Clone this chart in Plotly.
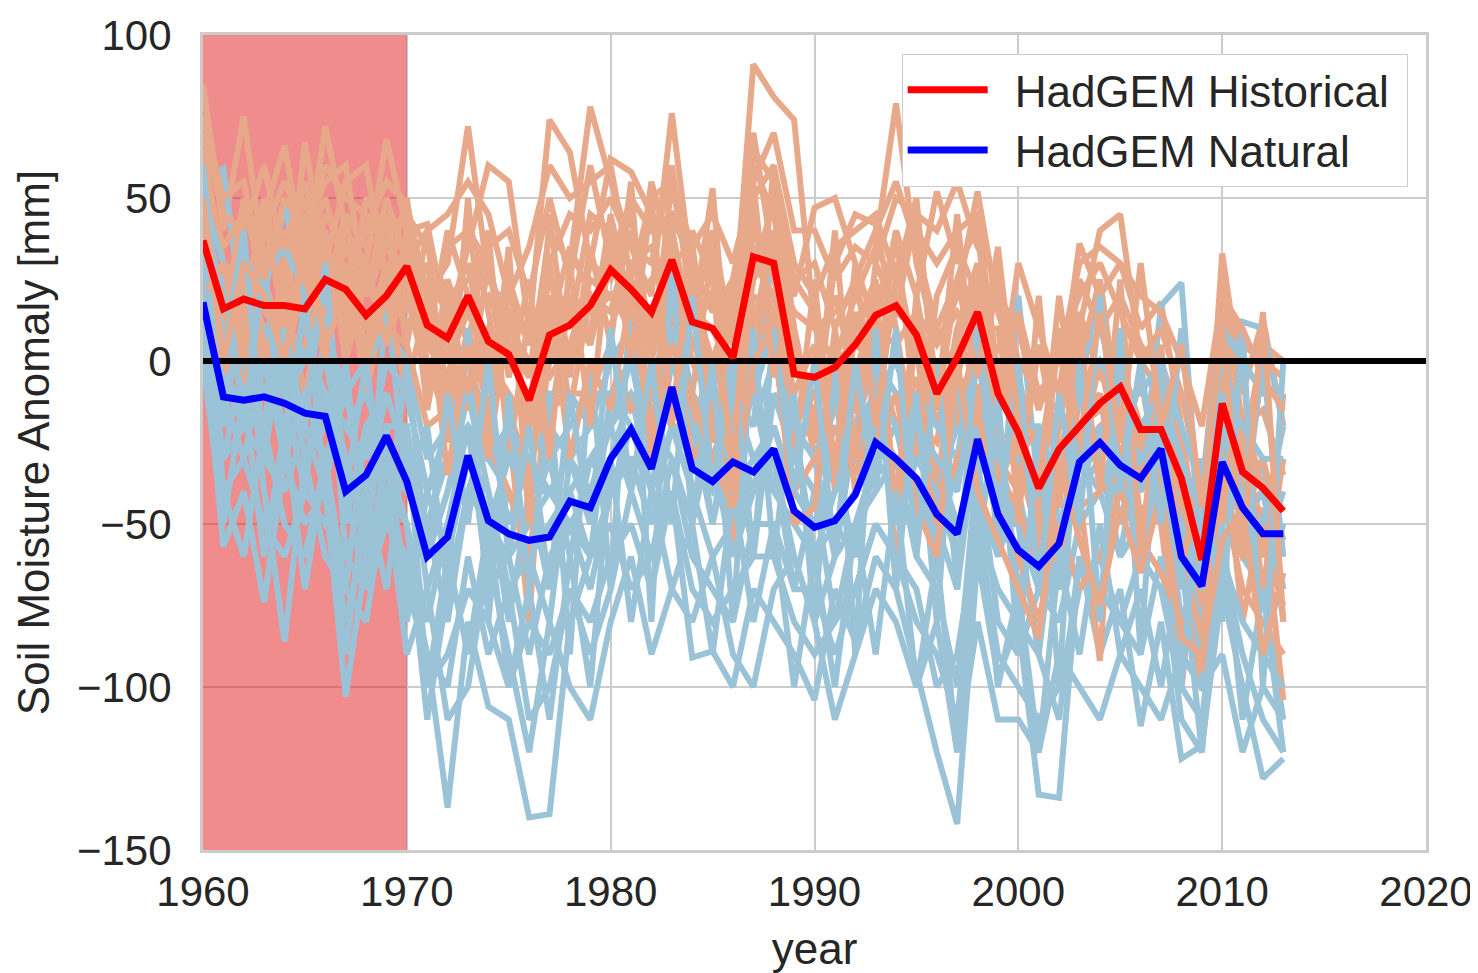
import plotly.graph_objects as go

years = list(range(1960, 2014))

# ensemble means
hist_mean = [37, 16, 19, 17, 17, 16, 25, 22, 14, 20,
             29, 11, 7, 20, 6, 2, -12, 8, 11, 17,
             28, 22, 15, 31, 12, 10, 1, 32, 30, -4,
             -5, -2, 5, 14, 17, 8, -10, 1, 15, -10,
             -22, -39, -27, -20, -13, -8, -21, -21, -36, -61,
             -13, -34, -39, -46]
nat_mean = [18, -11, -12, -11, -13, -16, -17, -40, -35, -23,
            -37, -60, -54, -29, -49, -53, -55, -54, -43, -45,
            -30, -21, -33, -8, -33, -37, -31, -34, -27, -46,
            -51, -49, -41, -25, -30, -36, -47, -53, -24, -47,
            -58, -63, -56, -31, -25, -32, -36, -27, -60, -69,
            -31, -45, -53, -53]

# individual ensemble members (estimated)
hist_1 = [85, 40, 75, 30, 45, 35, 50, 25, 40, 55,
          48, 20, 30, 72, 25, 15, -5, 40, 30, 78,
          55, 35, 20, 76, 25, 20, 10, 91, 81, 74,
          10, 15, 20, 35, 79, 30, 5, 20, 52, 15,
          -5, -30, 5, 10, 40, 45, 0, -10, -30, -60,
          33, -10, 13, -20]
hist_2 = [60, 55, 20, 45, 66, 30, 72, 40, 30, 68,
          40, 42, 10, 35, 60, 55, 10, 74, 64, 30,
          62, 58, 45, 40, 10, 53, -20, 70, 30, 20,
          47, 50, 30, 10, 40, 20, 52, 30, 40, -15,
          30, 10, -10, 36, 20, 30, 10, 18, -20, -80,
          10, -30, 5, 0]
hist_3 = [40, 10, 50, 20, 10, 67, 30, 55, 60, 25,
          50, 5, 40, 20, -10, 30, -40, 20, 10, 45,
          40, 10, 55, 30, 36, -10, 25, 60, 45, 10,
          -20, 30, 45, 42, 10, -30, 20, 35, 20, -30,
          -40, 5, -30, 0, 25, -20, -35, 5, -60, -101,
          0, -50, -30, -60]
hist_4 = [30, 25, 10, 50, 20, 45, 15, 35, 20, 45,
          15, 30, -10, 45, 15, -20, -80, 10, 35, 20,
          15, 40, 0, 55, 20, 30, -60, 45, 10, -30,
          25, -40, 10, 25, -65, 15, -40, 10, 30, -40,
          -20, -50, 10, -40, -92, 0, -20, -50, -101, -40,
          -20, -80, -45, -104]
hist_5 = [20, 0, 35, -5, 30, 10, 40, 0, 25, 10,
          35, -10, 25, 5, 40, -30, 15, -20, 20, 5,
          30, 20, -20, 15, -10, 35, -15, 25, 50, -20,
          -10, 5, -25, 30, 15, 45, -10, -20, 10, 10,
          -30, -20, -60, -10, -30, 10, -50, -30, -20, -70,
          15, -40, -70, -30]
hist_6 = [35, 20, -10, 25, 5, 20, 10, 30, -10, 20,
          20, 10, 5, -15, 10, 25, 5, 30, -15, 20,
          10, 30, 35, 20, -20, 0, 20, 10, 40, 5,
          -30, -15, 15, -10, 40, -20, -25, 10, -10, 5,
          -10, -60, -40, -30, 0, -30, -5, -40, -50, -50,
          -30, -20, -60, -50]
hist_7 = [50, 30, 25, 10, 15, -10, 20, 25, 5, 15,
          30, 0, -20, 10, -15, 10, 0, -5, 5, 25,
          20, 25, 10, 35, 5, -5, 15, 30, 20, -10,
          5, -30, -10, 15, 20, 5, -45, -10, 0, -20,
          -35, -45, -25, -20, -10, -40, -30, -10, -35, -45,
          -25, -15, -40, -70]
hist_8 = [25, -5, 20, 15, 10, 5, 25, 10, 15, 5,
          25, 15, 0, 15, 0, -10, -20, 5, 0, 10,
          35, 5, 15, 20, 15, 10, -5, 25, 35, -15,
          -15, 0, 5, 0, 15, 10, -20, 5, 25, -25,
          -25, -40, -35, -30, -20, -15, -25, -35, -45, -60,
          -5, -40, -30, -55]
hist_9 = [45, 10, 0, 35, 25, 20, 35, 15, 5, 30,
          10, 25, 15, 30, -5, 20, 5, 15, 0, 30,
          25, 45, 5, 40, 10, 20, 5, 40, 25, 0,
          0, 20, -5, 20, 30, 0, 10, -5, 20, -5,
          -15, -25, -20, 15, -5, -10, -30, -20, -40, -75,
          -15, -30, -50, -45]
hist_10 = [15, 5, 30, 5, 0, 25, 15, 20, 10, 25,
           20, -5, 10, 15, 20, 5, -5, 25, 15, 5,
           45, 15, 25, 30, 20, 0, 10, 35, 30, 15,
           10, 0, 20, 10, 5, 15, 5, 15, 5, 0,
           -30, -55, -20, -20, -15, -5, -25, -10, -35, -55,
           -10, -45, -40, -30]
hist_11 = [70, 45, 40, 60, 30, 50, 20, 45, 35, 40,
           45, 35, 20, 25, 35, 40, 20, 50, 25, 60,
           30, 50, 40, 45, 30, 15, 25, 50, 60, 30,
           20, 35, 40, 45, 25, 40, 30, 40, 45, 20,
           10, -15, 5, 20, 30, 15, 0, 10, -10, -40,
           20, 5, 0, -5]
hist_12 = [55, 35, 45, 40, 55, 40, 60, 50, 45, 35,
           35, 10, 35, 40, 30, 5, -15, 30, 45, 40,
           50, 35, 30, 60, 15, 40, 5, 65, 55, 25,
           30, 10, 25, 40, 55, 35, 10, 25, 45, -5,
           15, -10, -15, 25, 10, 20, 5, -5, -25, -55,
           25, -20, -15, -35]
hist_13 = [30, 20, 15, 30, 40, 25, 30, 5, 30, 10,
           5, -20, -15, 0, -25, -40, -60, -15, -10, -10,
           5, -15, -10, 10, -30, -20, -40, 15, 5, -40,
           -30, -20, -35, -15, -40, -20, -50, -30, -15, -45,
           -60, -80, -50, -70, -60, -40, -55, -65, -80, -95,
           -40, -70, -80, -90]
hist_14 = [40, 15, 35, 0, 20, 15, 45, 35, 20, 35,
           25, 5, -5, 20, 5, -15, -35, 0, 20, 15,
           20, 10, 0, 25, 0, -15, -30, 20, 15, -25,
           -20, -10, -15, 5, -20, -5, -35, -15, 5, -35,
           -45, -65, -55, -45, -40, -35, -45, -50, -60, -85,
           -35, -60, -55, -75]
hist_15 = [65, 30, 5, 40, 35, 55, 25, 10, 50, 40,
           5, 40, -25, 50, -20, 35, -50, 45, -5, 35,
           5, 55, -30, 45, 30, -25, 20, -10, 60, 10,
           -25, 40, -30, 20, -45, 20, -15, 45, -20, 30,
           -50, 20, -45, 10, -40, 25, -60, 0, -65, -30,
           -50, 0, -75, -10]
hist_16 = [75, 50, 55, 25, 50, 40, 55, 60, 20, 50,
           30, 40, 45, 55, 45, 20, 35, 60, 50, 55,
           60, 25, 50, 55, 35, 45, 30, 55, 70, 40,
           40, 25, 35, 30, 50, 45, 40, 55, 35, 25,
           0, -10, 0, 30, 35, 30, 20, 15, 0, -20,
           20, 10, -5, -15]
hist_17 = [20, 30, 0, 45, 10, 30, 0, 45, 0, 20,
           -10, 20, -35, 5, -30, 15, -20, 20, -30, 0,
           -15, 20, -25, 5, -10, -30, -45, 0, 10, -50,
           -45, 10, -40, -25, -10, -45, -60, 0, -40, -55,
           -70, -85, -30, -55, -75, -45, -65, -40, -85, -90,
           -55, -45, -90, -65]
hist_18 = [50, 0, 30, 20, 0, 40, 5, 20, 30, 5,
           40, -15, 20, -10, 30, -5, 25, -30, 30, -20,
           40, 0, 50, -20, 40, 25, -35, 55, -5, 25,
           15, -35, 30, -20, 25, 50, -15, 25, -5, 35,
           -20, -40, 20, -25, 15, -25, 30, -20, 5, -45,
           10, -60, 15, -80]

nat_1 = [10, -57, -40, -74, -30, -50, -40, -103, -60, -30,
         -70, -90, -137, -80, -106, -110, -140, -139, -80, -60,
         -50, -70, -60, -40, -91, -89, -100, -70, -80, -90,
         -104, -70, -86, -60, -70, -95, -120, -142, -60, -97,
         -80, -133, -134, -60, -90, -70, -112, -80, -122, -118,
         -70, -100, -128, -122]
nat_2 = [55, 59, 10, 20, 50, 10, -20, -20, -30, 0,
         -10, -40, -30, -20, -60, -40, -50, -30, -20, -10,
         -10, 0, -30, 43, -20, -30, -10, -20, 38, -30,
         -40, -20, -30, -10, 0, -20, -30, -40, 20, -60,
         20, -40, -30, -10, 25, -20, -40, 17, 24, -60,
         -10, 12, 10, -20]
nat_3 = [30, -20, 20, -40, -86, -30, -60, -70, -20, -40,
         -50, -110, -70, -40, -50, -60, -90, -60, -50, -70,
         -40, -30, -50, -20, -40, -60, -50, -40, -30, -60,
         -80, -60, -50, -40, -30, -60, -70, -100, -30, -80,
         -90, -70, -80, -50, -40, -60, -50, -40, -90, -100,
         -40, -60, -70, -110]
nat_4 = [20, 0, -20, 10, -10, -40, 10, -50, -20, -10,
         -30, -60, -40, -10, -40, -70, -60, -80, -30, -40,
         -20, -40, -10, -20, -30, -10, -40, -30, -20, -40,
         -50, -30, -60, -20, -40, -10, -60, -30, -20, -30,
         -50, -90, -40, -20, -10, -50, -20, -30, -60, -70,
         -20, -30, -60, -40]
nat_5 = [0, -30, 0, -20, 20, -10, -30, -30, -50, -20,
         -80, -40, -60, -30, -30, -20, -40, -30, -60, -30,
         -40, -20, -40, 0, -10, -50, -20, -60, -10, -20,
         -30, -60, -20, -30, -20, -50, -30, -60, -10, -40,
         -60, -40, -70, -20, -30, -10, -30, -10, -70, -40,
         0, -20, -40, -60]
nat_6 = [40, 10, -10, 0, -20, 5, -10, -40, -70, -30,
         -40, -50, -80, -40, -20, -50, -30, -40, -30, -50,
         -30, -10, -20, -30, -50, -20, -30, -10, -40, -20,
         -60, -40, -30, -10, -50, -30, -40, -20, -30, -20,
         -70, -50, -60, -40, -20, -30, -60, -20, -50, -80,
         -30, -50, -30, -80]
nat_7 = [15, -10, -30, 0, -10, 0, 20, -60, -40, -20,
         -20, -70, -50, -20, -70, -60, -50, -40, -40, -60,
         -10, -20, -30, 10, -40, -30, -60, -40, -30, -70,
         -40, -80, -50, -30, -20, -40, -30, -50, -40, -60,
         -40, -70, -30, -40, -30, -60, -20, -50, -40, -80,
         -50, -40, -70, -50]
nat_8 = [10, -5, -20, -10, 10, -30, -20, -20, -10, -30,
         -50, -80, -50, -30, -40, -80, -40, -70, -50, -40,
         -30, -10, -40, -20, -20, -50, -10, -30, -40, -50,
         -60, -50, -60, -30, -40, -20, -50, -70, -20, -50,
         -60, -80, -50, -30, -40, -20, -40, -30, -80, -60,
         -40, -60, -50, -20]
nat_9 = [25, 10, 5, 10, -5, -20, -30, -10, -40, -10,
         -30, -50, -30, -20, -30, -40, -60, -50, -40, -30,
         -20, -10, -20, -10, -30, -40, -30, -40, -10, -30,
         -40, -50, -40, -20, -30, -40, -60, -30, -30, -40,
         -50, -60, -70, -30, -20, -40, -30, -30, -50, -70,
         -30, -40, -50, -30]
nat_10 = [5, -20, -10, 0, -30, -10, 0, -30, -50, -20,
          -20, -60, -40, -20, -50, -30, -40, -40, -50, -60,
          -40, -30, -30, 0, -20, -30, -20, -40, -20, -40,
          -50, -40, -30, -20, -30, -30, -40, -60, -20, -50,
          -50, -70, -60, -30, -30, -20, -30, -20, -60, -90,
          -20, -50, -40, -70]
nat_11 = [35, -40, -30, -50, -60, -40, -50, -60, -70, -50,
          -60, -90, -100, -60, -90, -70, -110, -100, -70, -80,
          -60, -50, -70, -40, -70, -80, -70, -60, -60, -80,
          -90, -80, -70, -50, -60, -80, -90, -110, -50, -90,
          -100, -110, -100, -70, -60, -80, -90, -60, -110, -120,
          -60, -90, -110, -120]
nat_12 = [45, 20, 30, 25, 35, 20, 10, -10, 0, 10,
          0, -30, -20, 0, -20, -30, -20, -10, -10, -20,
          0, 10, -10, 20, -10, -20, 0, -10, 10, -20,
          -30, -10, -20, 0, -10, -10, -20, -30, 10, -30,
          -20, -20, -40, 0, 10, -10, -10, 0, -20, -40,
          10, 0, -10, -10]
nat_13 = [20, -30, -20, -30, -40, -20, -40, -80, -50, -50,
          -60, -100, -90, -70, -80, -100, -80, -90, -70, -90,
          -70, -40, -60, -30, -60, -70, -80, -50, -50, -70,
          -70, -90, -70, -50, -60, -70, -100, -90, -50, -70,
          -80, -90, -110, -60, -70, -80, -60, -70, -100, -110,
          -60, -80, -90, -100]
nat_14 = [30, 0, 10, -10, 0, -30, -10, -20, -30, 0,
          -10, -40, -20, -10, -30, -20, -30, -20, -30, -20,
          -20, 0, -20, 10, -10, -20, -10, -20, 0, -20,
          -20, -30, -20, -10, -20, -20, -30, -40, 0, -30,
          -30, -40, -30, -10, 0, -10, -20, -10, -30, -50,
          -10, -20, -30, -30]
nat_15 = [50, 30, -20, 30, -30, 20, -40, 0, -60, 20,
          -40, -20, -70, 10, -80, -10, -70, -10, -90, 0,
          -70, 20, -80, 30, -50, 0, -80, 10, -60, -10,
          -80, 0, -90, 10, -70, -10, -80, 0, -60, -10,
          -90, -20, -100, 0, -80, 10, -90, 0, -100, -30,
          -80, 10, -100, 0]
nat_16 = [0, -50, -10, -60, -20, -70, -30, -90, -40, -70,
          -20, -100, -60, -90, -50, -100, -70, -110, -60, -100,
          -30, -80, -40, -70, -50, -90, -40, -80, -50, -100,
          -60, -100, -50, -90, -40, -100, -60, -120, -40, -100,
          -70, -120, -60, -90, -50, -90, -70, -100, -60, -120,
          -50, -110, -70, -120]
nat_17 = [60, 0, 40, -30, 10, -20, 30, -40, 0, -50,
          0, -60, -10, -50, 0, -60, -20, -70, -10, -50,
          10, -40, 0, -50, 20, -40, 0, -60, 10, -40,
          0, -60, 0, -40, 10, -60, 0, -70, 10, -50,
          0, -70, -10, -50, 20, -40, 0, -50, 10, -60,
          10, -50, 0, -60]
nat_18 = [25, -40, -60, -20, -50, -60, -30, -70, -80, -40,
          -90, -70, -110, -100, -60, -90, -120, -80, -100, -110,
          -80, -60, -90, -70, -80, -60, -90, -100, -70, -60,
          -80, -110, -90, -70, -80, -100, -80, -120, -80, -110,
          -110, -120, -90, -100, -110, -90, -100, -110, -90, -100,
          -90, -120, -100, -110]

hist_members = [hist_1, hist_2, hist_3, hist_4, hist_5, hist_6, hist_7, hist_8, hist_9,
                hist_10, hist_11, hist_12, hist_13, hist_14, hist_15, hist_16, hist_17, hist_18]
nat_members = [nat_1, nat_2, nat_3, nat_4, nat_5, nat_6, nat_7, nat_8, nat_9,
               nat_10, nat_11, nat_12, nat_13, nat_14, nat_15, nat_16, nat_17, nat_18]

x_ticks = [1960, 1970, 1980, 1990, 2000, 2010, 2020]
y_ticks = [-150, -100, -50, 0, 50, 100]

HIST_LIGHT = '#e8a98b'
NAT_LIGHT = '#9bc3d8'
TEXT = '#262626'

fig = go.Figure()

for h, n in zip(hist_members, nat_members):
    fig.add_trace(go.Scatter(x=years, y=h, mode='lines', line=dict(color=HIST_LIGHT, width=6),
                             showlegend=False, hoverinfo='skip'))
    fig.add_trace(go.Scatter(x=years, y=n, mode='lines', line=dict(color=NAT_LIGHT, width=6),
                             showlegend=False, hoverinfo='skip'))

fig.add_trace(go.Scatter(x=[1960, 2020], y=[0, 0], mode='lines', line=dict(color='black', width=6),
                         showlegend=False, hoverinfo='skip'))

# en space in front and no-break space behind pad the legend like the original
fig.add_trace(go.Scatter(x=years, y=hist_mean, mode='lines', name='\u2002HadGEM Historical\u00a0',
                         line=dict(color='#ff0000', width=7)))
fig.add_trace(go.Scatter(x=years, y=nat_mean, mode='lines', name='\u2002HadGEM Natural\u00a0',
                         line=dict(color='#0000ff', width=7)))

# reference period shading
fig.add_shape(type='rect', x0=1960, x1=1970, y0=-150, y1=100, xref='x', yref='y',
              fillcolor='#e31a1c', opacity=0.5, line_width=0, layer='between')

axis_common = dict(showgrid=True, gridcolor='#cccccc', gridwidth=2,
                   showline=True, linecolor='#cccccc', linewidth=3, mirror=True,
                   zeroline=False, ticks='', automargin=False,
                   tickfont=dict(size=42, color=TEXT))

fig.update_xaxes(range=[1960, 2020], tickvals=x_ticks, ticklabelstandoff=3,
                 title=dict(text='year', font=dict(size=44, color=TEXT), standoff=20),
                 **axis_common)
fig.update_yaxes(range=[-150, 100], tickvals=y_ticks, ticklabelstandoff=20,
                 title=dict(text='Soil Moisture Anomaly [mm]', font=dict(size=44, color=TEXT), standoff=14),
                 **axis_common)

fig.update_layout(
    width=1470, height=965,
    margin=dict(l=195, r=52, t=27, b=123),
    plot_bgcolor='white', paper_bgcolor='white',
    font=dict(family='Liberation Sans, Arial, sans-serif', color=TEXT),
    legend=dict(x=0.985, y=0.977, xanchor='right', yanchor='top',
                bgcolor='white', bordercolor='#cccccc', borderwidth=1,
                font=dict(size=44, color=TEXT), itemwidth=80),
)

fig.write_html("out.html")
